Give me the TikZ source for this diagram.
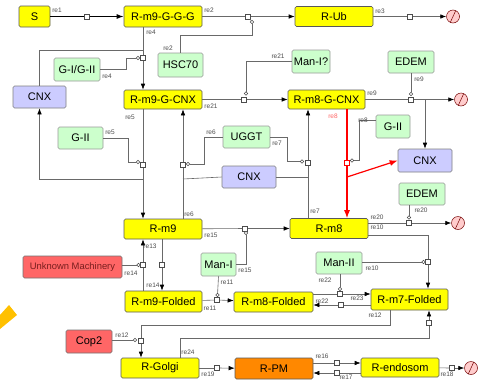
\documentclass[tikz,border=0pt]{standalone}
\usepackage{fontspec}
\setmainfont{Liberation Sans}
\usetikzlibrary{arrows.meta,positioning,calc}

\definecolor{spyel}{RGB}{255,255,0}
\definecolor{spgrn}{RGB}{204,255,204}
\definecolor{spblu}{RGB}{204,204,255}
\definecolor{spred}{RGB}{255,102,102}
\definecolor{sporg}{RGB}{255,136,0}
\definecolor{degpink}{RGB}{255,204,204}
\definecolor{lnkgray}{RGB}{105,105,105}
\definecolor{barorg}{RGB}{255,192,0}
\definecolor{unkred}{RGB}{120,30,30}

\begin{document}
\begin{tikzpicture}[x=1pt,y=-1pt,
  sp/.style={rounded corners=1.5pt,inner sep=0pt,line width=0.6pt,font=\fontsize{11}{12}\selectfont},
  yel/.style={sp,fill=spyel,draw=black!65},
  grn/.style={sp,fill=spgrn,draw=black!40},
  blu/.style={sp,fill=spblu,draw=black!50},
  rsp/.style={sp,fill=spred,draw=black!55},
  rsq/.style={draw=black!70,fill=white,inner sep=0pt,minimum size=5pt,line width=0.5pt},
  modc/.style={circle,draw=black!70,fill=white,inner sep=0pt,minimum size=3.5pt,line width=0.5pt},
  lbl/.style={font=\fontsize{6.5}{7}\selectfont,text=black!70,inner sep=0pt},
  conn/.style={draw=lnkgray,line width=0.6pt},
  arr/.style={conn,-{Latex[length=6pt,width=4.5pt,color=black]}},
  degr/.style={circle,draw=red!45!black,fill=degpink,minimum size=13pt,inner sep=0pt,line width=0.5pt,
    path picture={\draw[red!45!black,line width=0.5pt]
      ([xshift=3.5pt]path picture bounding box.south west) -- ([xshift=-3.5pt]path picture bounding box.north east);}}]
\useasboundingbox[fill=white] (0,0) rectangle (481,381);
% orange fragment at the left edge
\fill[barorg] (0,315) -- (9,305) -- (17,315) -- (0,329) -- cycle;

% species
\node[yel,minimum width=31pt,minimum height=21pt] (S) at (34.5,16.5) {S};
\node[yel,minimum width=78pt,minimum height=21pt] (Rm9GGG) at (163,16.5) {R-m9-G-G-G};
\node[yel,minimum width=78pt,minimum height=20pt] (RUb) at (334,16.5) {R-Ub};
\node[grn,minimum width=46pt,minimum height=23pt] (GIGII) at (77,69.5) {G-I/G-II};
\node[grn,minimum width=45pt,minimum height=24pt] (HSC70) at (180.5,65) {HSC70};
\node[blu,minimum width=53pt,minimum height=22pt] (CNXa) at (39.5,97) {CNX};
\node[yel,minimum width=78pt,minimum height=19pt] (Rm9GCNX) at (163,99.5) {R-m9-G-CNX};
\node[grn,minimum width=38pt,minimum height=23pt] (ManIq) at (311,61.5) {Man-I?};
\node[yel,minimum width=77pt,minimum height=19pt] (Rm8GCNX) at (326.5,99.5) {R-m8-G-CNX};
\node[grn,minimum width=46pt,minimum height=22pt] (EDEMa) at (411,62) {EDEM};
\node[grn,minimum width=45pt,minimum height=22pt] (GIIa) at (80.5,138) {G-II};
\node[grn,minimum width=47pt,minimum height=22pt] (UGGT) at (246.5,137) {UGGT};
\node[grn,minimum width=34pt,minimum height=23pt] (GIIb) at (393,126.5) {G-II};
\node[blu,minimum width=54pt,minimum height=22pt] (CNXb) at (249,177) {CNX};
\node[blu,minimum width=54pt,minimum height=23pt] (CNXc) at (425,160.5) {CNX};
\node[grn,minimum width=46pt,minimum height=22pt] (EDEMb) at (422,194) {EDEM};
\node[yel,minimum width=78pt,minimum height=20pt] (Rm9) at (163,229) {R-m9};
\node[yel,minimum width=78pt,minimum height=20pt] (Rm8) at (329,228.5) {R-m8};
\node[rsp,minimum width=99pt,minimum height=22pt,text=unkred,font=\fontsize{9.4}{10}\selectfont] (UnkM) at (72.5,267) {Unknown Machinery};
\node[grn,minimum width=35pt,minimum height=23pt] (ManI) at (218.5,264.5) {Man-I};
\node[grn,minimum width=46pt,minimum height=22pt] (ManII) at (339,263) {Man-II};
\node[yel,minimum width=77pt,minimum height=21pt] (Rm9F) at (163.5,301.5) {R-m9-Folded};
\node[yel,minimum width=79pt,minimum height=20pt] (Rm8F) at (273.5,302) {R-m8-Folded};
\node[yel,minimum width=77pt,minimum height=21pt] (Rm7F) at (409.5,299.5) {R-m7-Folded};
\node[rsp,minimum width=46pt,minimum height=23pt] (Cop2) at (89,341.5) {Cop2};
\node[yel,minimum width=78pt,minimum height=20pt] (RGolgi) at (160,368) {R-Golgi};
\node[sp,fill=sporg,draw=black!65,minimum width=78pt,minimum height=21pt] (RPM) at (274,368.5) {R-PM};
\node[yel,minimum width=78pt,minimum height=19pt] (Rendo) at (400,367.5) {R-endosom};

% degradation sinks
\foreach \n/\x/\y in {d1/453/16.5, d2/461/99.5, d3/458/223, d4/471/368}
  \node[degr] (\n) at (\x,\y) {};

% reaction squares
\foreach \n/\x/\y in {r1/87/16.5, r2/248/16.5, r3/410/16.5, r4/143/58, r21/244/99.5,
    r9/411/99.5, r5/143/165, r6/183/165, r7/308/163, r13/143/265, r14/162/265,
    r15/245/228.5, r20/409/223, r10/428/262, r11/217/300, r23/340/294, r22/341/305,
    r12/141/341, r24/429/323, r19/217/368, r16/337/363, r17/337/373, r18/452/368}
  \node[rsq] (\n) at (\x,\y) {};
\node[rsq,draw=red,line width=0.8pt] (r8) at (347,163) {};

% modifier circles
\foreach \n/\x/\y in {m2/252/22, m4/138/58, m21/246/93.5, m9/411/94, m5/138/162,
    m6/188/164, m7/302/161.5, m8/352/160.5, m15/246/233, m20/409/217.5, m10/423.5/262,
    m13/138.5/265, m11/217.5/295, m23/340/289, m12/135/340}
  \node[modc] (\n) at (\x,\y) {};

% re1
\draw[line width=1.2pt] (S) -- (r1);
\draw[line width=1.2pt,-{Latex[length=7pt,width=5pt]}] (r1) -- (Rm9GGG);
% re2, re3
\draw[conn] (Rm9GGG) -- (r2);
\draw[arr] (r2) -- (RUb);
\draw[conn] (HSC70.north) |- (m2 |- 0,35) -- (m2);
\draw[conn] (m2) -- (r2);
\draw[conn] (RUb) -- (r3);
\draw[arr] (r3) -- (d1);
% re4
\draw[conn] (r4 |- Rm9GGG.south) -- (r4);
\draw[arr] (r4) -- (r4 |- Rm9GCNX.north);
\draw[conn] (GIGII.east) -| (126,58) -- (m4);
\draw[conn] (r4 |- 0,50) -| (CNXa.north);
% re21
\draw[conn] (Rm9GCNX) -- (r21);
\draw[arr] (r21) -- (Rm8GCNX);
\draw[conn] (ManIq.west) -| (m21);
% re9
\draw[conn] (Rm8GCNX) -- (r9);
\draw[arr] (r9) -- (d2);
\draw[conn] (EDEMa.south) -- (m9);
\draw[arr] (CNXc.north |- r9) -- (CNXc.north);
% re8 (red)
\draw[red,line width=1.2pt] (r8 |- Rm8GCNX.south) -- (r8);
\draw[red,line width=1.2pt,-{Latex[length=8pt,width=6pt]}] (r8) -- (r8 |- Rm8.north);
\draw[red,line width=1.2pt,-{Latex[length=8pt,width=6pt]}] (r8 |- 0,177) -- (CNXc.west);
\draw[conn] ([yshift=6.5pt]GIIb.west) -| (359,160.5) -- (m8);
% re7
\draw[conn] (r7 |- Rm8.north) -- (r7);
\draw[arr] (r7) -- (r7 |- Rm8GCNX.south);
\draw[conn] (UGGT.east) -| (287,161.5) -- (m7);
\draw[conn] (CNXb.east) -- (r7 |- CNXb.east);
% re6
\draw[conn] (r6 |- Rm9.north) -- (r6);
\draw[arr] (r6) -- (r6 |- Rm9GCNX.south);
\draw[conn] (UGGT.west) -| (204,164) -- (m6);
\draw[conn] (CNXb.west) -- (r6 |- 0,179);
% re5
\draw[conn] (r5 |- Rm9GCNX.south) -- (r5);
\draw[arr] (r5) -- (r5 |- Rm9.north);
\draw[conn] (GIIa.east) -| (128,162) -- (m5);
\draw[arr] (r5 |- 0,179) -| (CNXa.south);
% re15, re11
\draw[conn] (Rm9) -- (r15);
\draw[arr] (r15) -- (Rm8);
\draw[conn] (ManI.east) -| (m15);
\draw[conn] (ManI.south) -- (m11);
\draw[conn] (Rm9F) -- (r11);
\draw[arr] (r11) -- (Rm8F);
% re20, re10
\draw[conn] (r20 -| Rm8.east) -- (r20);
\draw[arr] (r20) -- (d3);
\draw[conn] (m20 |- EDEMb.south) -- (m20);
\draw[conn] ([yshift=-7pt]Rm8.east) -| (r10);
\draw[arr] (r10) -- (r10 |- Rm7F.north);
\draw[conn] (m10 -| ManII.east) -- (m10);
% re13, re14
\draw[conn] (r13 |- Rm9F.north) -- (r13);
\draw[arr] (r13) -- (r13 |- Rm9.south);
\draw[conn] (m13 -| UnkM.east) -- (m13);
\draw[conn] (r14 |- Rm9.south) -- (r14);
\draw[arr] (r14) -- (r14 |- Rm9F.north);
% re23, re22
\draw[conn] (r23 -| Rm8F.east) -- (r23);
\draw[arr] (r23) -- (r23 -| Rm7F.west);
\draw[conn] (m23 |- ManII.south) -- (m23);
\draw[conn] (r22 -| Rm7F.west) -- (r22);
\draw[arr] (r22) -- (r22 -| Rm8F.east);
% re12, re24
\draw[conn] ([xshift=-19.5pt]Rm7F.south) |- (r12 |- 0,325) -- (r12);
\draw[arr] (r12) -- (r12 |- RGolgi.north);
\draw[conn] (m12 -| Cop2.east) -- (m12);
\draw[conn] ([xshift=20pt]RGolgi.north) |- (r24 |- 0,338) -- (r24);
\draw[arr] (r24) -- (r24 |- Rm7F.south);
% re19, re16, re17, re18
\draw[conn] (RGolgi) -- (r19);
\draw[arr] (r19) -- (RPM);
\draw[conn] (r16 -| RPM.east) -- (r16);
\draw[arr] (r16) -- (r16 -| Rendo.west);
\draw[conn] (r17 -| Rendo.west) -- (r17);
\draw[arr] (r17) -- (r17 -| RPM.east);
\draw[conn] (Rendo) -- (r18);
\draw[arr] (r18) -- (d4);

% reaction labels
\foreach [count=\i] \x/\y/\t in {57/10/re1, 209/10/re2, 380/11/re3, 151/32/re4, 168/48/re2,
    107/76/re4, 211/106/re21, 130/117/re5, 278/56/re21, 372/93/re9, 419/79/re9,
    363/120/re8, 110/132/re5, 211/132/re6, 277/143/re7, 189/214/re6, 211/235/re15,
    150/246/re13, 315/211/re7, 377/217/re20, 377/227/re10, 421/210/re20,
    131/273/re14, 153/285/re14, 245/270/re15, 227/282/re11, 210/308/re11,
    325/280/re22, 372/268/re10, 357/298/re23, 322/301/re22, 375/315/re12,
    122/335/re12, 188/352/re24, 208/374/re19, 322/356/re16, 346/377/re17, 447/374/re18}
  \node[lbl] (lb\i) at (\x,\y) {\t};
\node[lbl,text=red!60] (lbred) at (333,116) {re8};
\end{tikzpicture}
\end{document}
